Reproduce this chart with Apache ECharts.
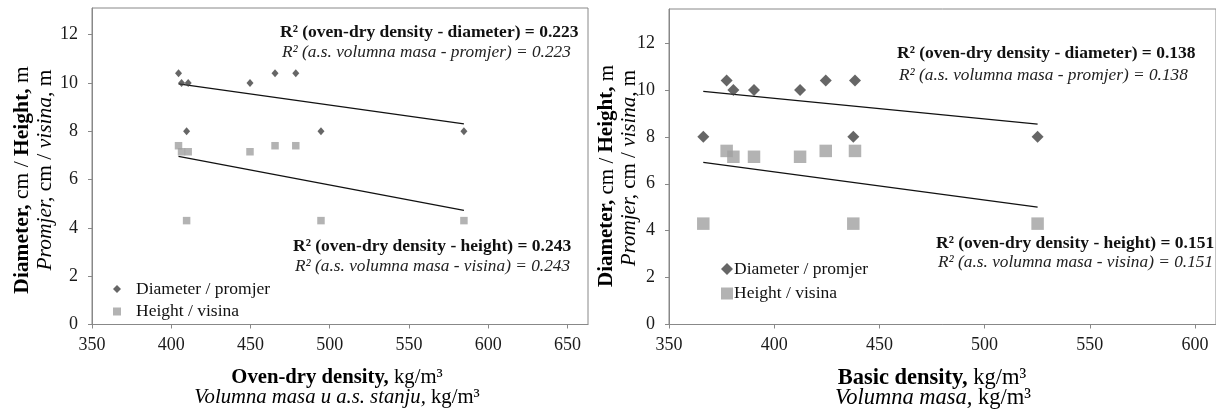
<!DOCTYPE html>
<html><head><meta charset="utf-8">
<script src="https://cdn.jsdelivr.net/npm/echarts@6/dist/echarts.min.js"></script>
<style>html,body{margin:0;padding:0;background:#fff}#c{width:1216px;height:412px}</style>
</head><body><div id="c"></div>
<script>
// ---- data ----
const xTicksOven = [350, 400, 450, 500, 550, 600, 650];
const xTicksBasic = [350, 400, 450, 500, 550, 600];
const yTicks = [0, 2, 4, 6, 8, 10, 12];

const ovenDryDensity = [404.6, 406.5, 410.7, 409.7, 449.7, 465.5, 478.6, 494.5, 584.7];
const diameterOven   = [10.4, 10, 10, 8, 10, 10.4, 10.4, 8, 8];
const heightOven     = [7.4, 7.15, 7.15, 4.3, 7.15, 7.4, 7.4, 4.3, 4.3];

const basicDensity   = [366.3, 377.4, 380.6, 390.4, 412.3, 424.5, 438.4, 437.6, 525.2];
const diameterBasic  = [8, 10.4, 10, 10, 10, 10.4, 10.4, 8, 8];
const heightBasic    = [4.3, 7.4, 7.15, 7.15, 7.15, 7.4, 7.4, 4.3, 4.3];

// trend line endpoints
const trendOvenX = [404.6, 584.7];
const trendOvenDiameter = [9.96, 8.3];
const trendOvenHeight = [6.96, 4.72];
const trendBasicX = [366.3, 525.2];
const trendBasicDiameter = [9.94, 8.54];
const trendBasicHeight = [6.91, 5.0];

const seriesNames = ['Diameter / promjer', 'Height / visina'];
const r2Oven = ['0.223', '0.243'];
const r2Basic = ['0.138', '0.151'];

// ---- chart ----
const FF = 'Liberation Serif';
const pairs = (xs, ys) => xs.map((x, i) => [x, ys[i]]);
const chart = echarts.init(document.getElementById('c'), null, {renderer: 'canvas'});

function xAxis(gi, min, max, ticks) {
  return {
    type: 'value', gridIndex: gi, min: min, max: max, interval: 50,
    axisLine: {show: true, lineStyle: {color: '#888', width: 1}},
    axisTick: {show: true, length: 4, inside: false, lineStyle: {color: '#888'}, customValues: ticks},
    axisLabel: {color: '#1a1a1a', fontFamily: FF, fontSize: 18, margin: 12, customValues: ticks},
    splitLine: {show: false}
  };
}
function yAxis(gi, max) {
  return {
    type: 'value', gridIndex: gi, min: 0, max: max, interval: 2,
    axisLine: {show: true, lineStyle: {color: '#888', width: 1}},
    axisTick: {show: true, length: 4, inside: false, lineStyle: {color: '#888'}, customValues: yTicks},
    axisLabel: {color: '#1a1a1a', fontFamily: FF, fontSize: 18, margin: 14, customValues: yTicks},
    splitLine: {show: false}
  };
}
const richT = (size) => ({
  b: {fontFamily: FF, fontSize: size, fontWeight: 'bold', color: '#111'},
  n: {fontFamily: FF, fontSize: size, color: '#111'},
  i: {fontFamily: FF, fontSize: size, fontStyle: 'italic', color: '#111'}
});
function txt(x, y, text, size, rot, align) {
  return {
    type: 'text', x: x, y: y, rotation: rot || 0, silent: true,
    style: {text: text, rich: richT(size), align: align || 'center', verticalAlign: 'middle',
            textAlign: align || 'center', textVerticalAlign: 'middle'}
  };
}
function r2(x, y, gap, bold, ital) {
  return [
    {type: 'text', x: x, y: y, silent: true, style: {text: bold, fontFamily: FF, fontSize: 17.5, fontWeight: 'bold', fill: '#111', align: 'left', verticalAlign: 'middle'}},
    {type: 'text', x: x + 2, y: y + gap, silent: true, style: {text: ital, fontFamily: FF, fontSize: 17.3, fontStyle: 'italic', fill: '#222', align: 'left', verticalAlign: 'middle'}}
  ];
}

const option = {
  animation: false,
  grid: [
    {left: 92, top: 8, width: 496, height: 316.5, show: true, borderColor: '#888', borderWidth: 1, backgroundColor: 'transparent'},
    {left: 669, top: 9, width: 548, height: 315.5, show: true, borderColor: '#888', borderWidth: 1, backgroundColor: 'transparent'}
  ],
  xAxis: [xAxis(0, 350, 663, xTicksOven), xAxis(1, 350, 610, xTicksBasic)],
  yAxis: [yAxis(0, 13.1), yAxis(1, 13.45)],
  legend: [
    {orient: 'vertical', left: 108, top: 275, itemWidth: 8, itemHeight: 8, itemGap: 4.5,
     textStyle: {fontFamily: FF, fontSize: 17.5, color: '#111', lineHeight: 17, padding: [0, 0, 0, 10]},
     data: [{name: seriesNames[0], icon: 'diamond', itemStyle: {color: '#404040'}},
            {name: seriesNames[1], icon: 'rect', itemStyle: {color: '#a0a0a0'}}]},
    {orient: 'vertical', left: 716, top: 255, itemWidth: 12, itemHeight: 12, itemGap: 6.5,
     textStyle: {fontFamily: FF, fontSize: 17.5, color: '#111', lineHeight: 17, padding: [0, 0, 0, -4]},
     data: [{name: seriesNames[0], icon: 'diamond', itemStyle: {color: '#404040'}},
            {name: seriesNames[1], icon: 'rect', itemStyle: {color: '#a0a0a0'}}]}
  ],
  series: [
    {name: 'trendOvenD', type: 'line', xAxisIndex: 0, yAxisIndex: 0, data: pairs(trendOvenX, trendOvenDiameter), symbol: 'none', lineStyle: {color: '#111', width: 1.3}, z: 1},
    {name: 'trendOvenH', type: 'line', xAxisIndex: 0, yAxisIndex: 0, data: pairs(trendOvenX, trendOvenHeight), symbol: 'none', lineStyle: {color: '#111', width: 1.3}, z: 1},
    {name: seriesNames[0], type: 'scatter', xAxisIndex: 0, yAxisIndex: 0, data: pairs(ovenDryDensity, diameterOven), symbol: 'diamond', symbolSize: [7, 8], itemStyle: {color: '#404040'}, z: 3},
    {name: seriesNames[1], type: 'scatter', xAxisIndex: 0, yAxisIndex: 0, data: pairs(ovenDryDensity, heightOven), symbol: 'rect', symbolSize: 7.5, itemStyle: {color: '#a0a0a0'}, z: 2},
    {name: 'trendBasicD', type: 'line', xAxisIndex: 1, yAxisIndex: 1, data: pairs(trendBasicX, trendBasicDiameter), symbol: 'none', lineStyle: {color: '#111', width: 1.3}, z: 1},
    {name: 'trendBasicH', type: 'line', xAxisIndex: 1, yAxisIndex: 1, data: pairs(trendBasicX, trendBasicHeight), symbol: 'none', lineStyle: {color: '#111', width: 1.3}, z: 1},
    {name: seriesNames[0], type: 'scatter', xAxisIndex: 1, yAxisIndex: 1, data: pairs(basicDensity, diameterBasic), symbol: 'diamond', symbolSize: [12, 12], itemStyle: {color: '#404040'}, z: 3},
    {name: seriesNames[1], type: 'scatter', xAxisIndex: 1, yAxisIndex: 1, data: pairs(basicDensity, heightBasic), symbol: 'rect', symbolSize: 12.5, itemStyle: {color: '#a0a0a0'}, z: 2}
  ],
  graphic: [
    txt(22, 180, '{b|Diameter,}{n| cm / }{b|Height,}{n| m}', 21.5, Math.PI / 2),
    txt(45, 170, '{i|Promjer,}{n| cm / }{i|visina,}{n| m}', 21.5, Math.PI / 2),
    txt(607, 176, '{b|Diameter,}{n| cm / }{b|Height,}{n| m}', 21, Math.PI / 2),
    txt(629, 168, '{i|Promjer,}{n| cm / }{i|visina,}{n| m}', 21, Math.PI / 2),
    txt(337, 378, '{b|Oven-dry density,}{n| kg/m³}', 20.7),
    txt(337, 398, '{i|Volumna masa u a.s. stanju,}{n| kg/m³}', 20.7),
    txt(932, 378, '{b|Basic density,}{n| kg/m³}', 22.5),
    txt(933, 398, '{i|Volumna masa,}{n| kg/m³}', 22.5)
  ].concat(
    r2(280, 32, 20, 'R² (oven-dry density - diameter) = ' + r2Oven[0], 'R² (a.s. volumna masa - promjer) = ' + r2Oven[0]),
    r2(293, 246.5, 20, 'R² (oven-dry density - height) = ' + r2Oven[1], 'R² (a.s. volumna masa - visina) = ' + r2Oven[1]),
    r2(897, 53.5, 21.5, 'R² (oven-dry density - diameter) = ' + r2Basic[0], 'R² (a.s. volumna masa - promjer) = ' + r2Basic[0]),
    r2(936, 243.5, 19, 'R² (oven-dry density - height) = ' + r2Basic[1], 'R² (a.s. volumna masa - visina) = ' + r2Basic[1])
  )
};
chart.setOption(option);
</script>
</body></html>
